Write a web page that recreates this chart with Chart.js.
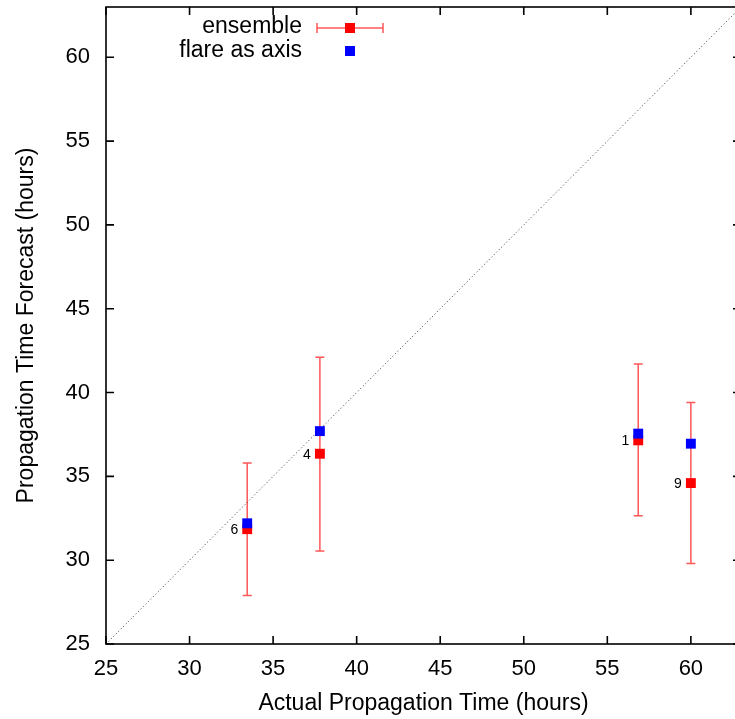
<!DOCTYPE html>
<html>
<head>
<meta charset="utf-8">
<script src="https://cdn.jsdelivr.net/npm/chart.js@4.4.1/dist/chart.umd.min.js"></script>
<style>
  body { margin: 0; background: #fff; overflow: hidden; }
  canvas { display: block; }
</style>
</head>
<body>
<canvas id="propChart" width="748" height="719"></canvas>
<script>
// event data
const eventIds = ['6', '4', '1', '9'];
const actualTime = [33.45, 37.8, 56.85, 60.0];
const ensembleForecast = [31.85, 36.35, 37.15, 34.6];
const ensembleLow = [27.9, 30.55, 32.65, 29.8];
const ensembleHigh = [35.8, 42.1, 41.7, 39.4];
const flareAxisForecast = [32.2, 37.7, 37.55, 36.95];
const axisMin = 25;
const axisMax = 63;

const FONT = 'Liberation Sans, Arial, Helvetica, sans-serif';
const ERR_COLOR = 'rgba(255, 30, 30, 0.75)';

function pts(xs, ys) {
    return xs.map((x, i) => ({ x: x, y: ys[i] }));
}

// error bars + labels, drawn under the points
const errorBars = {
    id: 'errorBars',
    beforeDatasetsDraw(chart) {
        const { ctx, scales: { x, y } } = chart;
        ctx.save();
        ctx.strokeStyle = ERR_COLOR;
        ctx.lineWidth = 1.5;
        actualTime.forEach((t, i) => {
            const px = x.getPixelForValue(t);
            const lo = y.getPixelForValue(ensembleLow[i]);
            const hi = y.getPixelForValue(ensembleHigh[i]);
            ctx.beginPath();
            ctx.moveTo(px, lo); ctx.lineTo(px, hi);
            ctx.moveTo(px - 4.5, lo); ctx.lineTo(px + 4.5, lo);
            ctx.moveTo(px - 4.5, hi); ctx.lineTo(px + 4.5, hi);
            ctx.stroke();
        });
        ctx.fillStyle = '#000';
        ctx.font = '14px ' + FONT;
        ctx.textAlign = 'right';
        ctx.textBaseline = 'middle';
        eventIds.forEach((id, i) => {
            ctx.fillText(id, x.getPixelForValue(actualTime[i]) - 9, y.getPixelForValue(ensembleForecast[i]) + 1);
        });
        ctx.restore();
    }
};

// gnuplot-style frame, inward ticks and key
const frame = {
    id: 'frame',
    afterDraw(chart) {
        const { ctx, chartArea: a, scales: { x, y } } = chart;
        ctx.save();
        ctx.strokeStyle = '#000';
        ctx.lineWidth = 1.6;
        ctx.strokeRect(a.left, a.top, a.right - a.left, a.bottom - a.top);
        ctx.beginPath();
        x.ticks.forEach(t => {
            const px = x.getPixelForValue(t.value);
            ctx.moveTo(px, a.bottom); ctx.lineTo(px, a.bottom - 8);
            ctx.moveTo(px, a.top); ctx.lineTo(px, a.top + 8);
        });
        y.ticks.forEach(t => {
            const py = y.getPixelForValue(t.value);
            ctx.moveTo(a.left, py); ctx.lineTo(a.left + 8, py);
            ctx.moveTo(a.right, py); ctx.lineTo(a.right - 8, py);
        });
        ctx.stroke();

        // key
        ctx.font = '23px ' + FONT;
        ctx.fillStyle = '#000';
        ctx.textAlign = 'right';
        ctx.textBaseline = 'middle';
        ctx.fillText('ensemble', 302, 27);
        ctx.fillText('flare as axis', 302, 51);
        ctx.strokeStyle = ERR_COLOR;
        ctx.lineWidth = 1.5;
        ctx.beginPath();
        ctx.moveTo(317, 28); ctx.lineTo(383, 28);
        ctx.moveTo(317, 23); ctx.lineTo(317, 33);
        ctx.moveTo(383, 23); ctx.lineTo(383, 33);
        ctx.stroke();
        ctx.fillStyle = '#ff0000';
        ctx.fillRect(345, 23, 10, 10);
        ctx.fillStyle = '#0000ff';
        ctx.fillRect(345, 46, 10, 10);
        ctx.restore();
    }
};

function noEdgePadding(scale) {
    scale.paddingTop = 0;
    scale.paddingBottom = 0;
    scale.paddingLeft = 0;
    scale.paddingRight = 0;
}

const ctx = document.getElementById('propChart').getContext('2d');
new Chart(ctx, {
    type: 'scatter',
    data: {
        datasets: [
            {
                label: 'flare as axis',
                data: pts(actualTime, flareAxisForecast),
                pointStyle: 'rect',
                pointRadius: 7,
                pointHoverRadius: 7,
                backgroundColor: '#0000ff',
                borderColor: '#0000ff',
                borderWidth: 0,
                order: 0
            },
            {
                label: 'ensemble',
                data: pts(actualTime, ensembleForecast),
                pointStyle: 'rect',
                pointRadius: 7,
                pointHoverRadius: 7,
                backgroundColor: '#ff0000',
                borderColor: '#ff0000',
                borderWidth: 0,
                order: 1
            },
            {
                label: 'y = x',
                data: [{ x: axisMin, y: axisMin }, { x: axisMax, y: axisMax }],
                showLine: true,
                pointRadius: 0,
                borderColor: '#333',
                borderWidth: 1,
                borderDash: [1, 2.5],
                order: 2
            }
        ]
    },
    options: {
        responsive: false,
        animation: false,
        events: [],
        layout: { padding: { top: 6, right: 4, left: 0, bottom: 0 } },
        plugins: {
            legend: { display: false },
            tooltip: { enabled: false }
        },
        scales: {
            x: {
                type: 'linear',
                min: axisMin,
                max: axisMax,
                grid: { display: false, drawTicks: false },
                border: { display: false },
                ticks: {
                    stepSize: 5,
                    includeBounds: false,
                    padding: 12,
                    color: '#000',
                    font: { family: FONT, size: 22 }
                },
                title: {
                    display: true,
                    text: 'Actual Propagation Time (hours)',
                    color: '#000',
                    font: { family: FONT, size: 23 },
                    padding: { top: 0, bottom: 2 }
                },
                afterFit(scale) {
                    scale.height = 75;
                    noEdgePadding(scale);
                }
            },
            y: {
                type: 'linear',
                min: axisMin,
                max: axisMax,
                grid: { display: false, drawTicks: false },
                border: { display: false },
                ticks: {
                    stepSize: 5,
                    includeBounds: false,
                    padding: 16,
                    color: '#000',
                    font: { family: FONT, size: 22 }
                },
                title: {
                    display: true,
                    text: 'Propagation Time Forecast (hours)',
                    color: '#000',
                    font: { family: FONT, size: 23 },
                    padding: { top: 13, bottom: 0 }
                },
                afterFit(scale) {
                    scale.width = 106;
                    noEdgePadding(scale);
                }
            }
        }
    },
    plugins: [errorBars, frame]
});
</script>
</body>
</html>
